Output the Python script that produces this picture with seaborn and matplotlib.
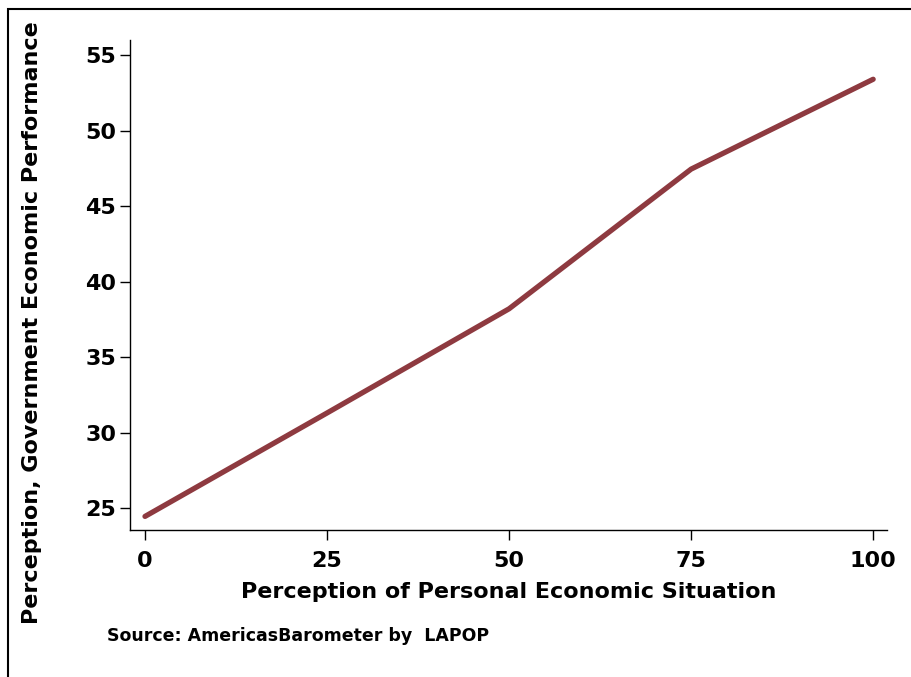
import matplotlib
matplotlib.use("Agg")
import matplotlib.pyplot as plt
import seaborn as sns
import pandas as pd
from matplotlib.patches import Rectangle

personal = [0, 25, 50, 75, 100]
government = [24.45, 31.3, 38.2, 47.45, 53.4]
x_ticks = [0, 25, 50, 75, 100]
y_ticks = [25, 30, 35, 40, 45, 50, 55]

df = pd.DataFrame({"personal": personal, "government": government})

sns.set_style("white")
plt.rcParams['font.family'] = ['DejaVu Sans']
plt.rcParams['font.weight'] = 'bold'
for k in ['text.color', 'xtick.color', 'ytick.color', 'axes.labelcolor', 'axes.edgecolor']:
    plt.rcParams[k] = 'black'

fig = plt.figure(figsize=(9.12, 6.77), dpi=100)
ax = fig.add_axes([130/912, 1-530/677, (887-130)/912, (530-40)/677])

sns.lineplot(data=df, x="personal", y="government", ax=ax, color="#8e3a40",
             linewidth=3.8, solid_capstyle="round")

ax.set_xlim(-2.06, 101.9)
ax.set_ylim(23.55, 56.0)
ax.set_xticks(x_ticks)
ax.set_yticks(y_ticks)
ax.set_xticklabels([str(v) for v in x_ticks], fontsize=16, fontweight='bold')
ax.set_yticklabels([str(v) for v in y_ticks], fontsize=16, fontweight='bold')
ax.tick_params(axis='x', direction='out', length=7, width=1, color='black',
               bottom=True, pad=8)
ax.tick_params(axis='y', direction='out', length=7, width=1, color='black',
               left=True, pad=3)
for side in ['top', 'right']:
    ax.spines[side].set_visible(False)
for side in ['left', 'bottom']:
    ax.spines[side].set_color('black')
    ax.spines[side].set_linewidth(1)

ax.set_xlabel("")
ax.set_ylabel("")
fig.text(509/912, 1-592/677, "Perception of Personal Economic Situation",
         ha='center', va='center', fontsize=16, fontweight='bold')
fig.text(32/912, 1-323/677, "Perception, Government Economic Performance",
         ha='center', va='center', rotation=90, fontsize=16, fontweight='bold')
fig.text(107/912, 1-636/677, "Source: AmericasBarometer by  LAPOP",
         ha='left', va='center', fontsize=12.5, fontweight='bold')

fig.patches.append(Rectangle((8/912, -0.1), 1.2, 1-9/677+0.1, transform=fig.transFigure,
                             fill=False, edgecolor='black', linewidth=1.5))

fig.savefig("out.png", dpi=100)
